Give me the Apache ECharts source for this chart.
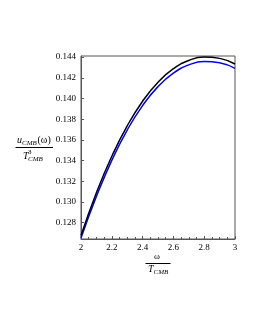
<!DOCTYPE html>
<html><head><meta charset="utf-8">
<script src="https://cdn.jsdelivr.net/npm/echarts@6/dist/echarts.min.js"></script>
<style>html,body{margin:0;padding:0;background:#fff}#c{width:255px;height:330px}</style>
</head><body><div id="c"></div>
<script>
const xValues = [2.0, 2.1, 2.2, 2.3, 2.4, 2.5, 2.6, 2.7, 2.8, 2.9, 3.0];
const blackValues = [0.12676, 0.13090, 0.13442, 0.13736, 0.13974, 0.14157, 0.14288, 0.14368, 0.14401, 0.14388, 0.14334];
const blueValues = [0.12652, 0.13053, 0.13403, 0.13696, 0.13932, 0.14115, 0.14245, 0.14325, 0.14358, 0.14345, 0.14291];
const yTicks = [0.128, 0.130, 0.132, 0.134, 0.136, 0.138, 0.140, 0.142, 0.144];

const serif = '"Liberation Serif", "DejaVu Serif", serif';
const axisColor = '#555';
const chart = echarts.init(document.getElementById('c'), null, {renderer: 'canvas'});
const txt = (x, y, s, size, italic, align) => ({
  type: 'text', x: x, y: y,
  style: {text: s, font: (italic ? 'italic ' : '') + size + 'px ' + serif, fill: '#000',
          align: align || 'left', verticalAlign: 'middle'}
});
chart.setOption({
  animation: false,
  grid: {left: 81, right: 20, top: 56, bottom: 91, show: true, borderColor: axisColor, borderWidth: 1, backgroundColor: '#fff'},
  xAxis: {
    type: 'value', min: 2, max: 3, interval: 0.2,
    axisLine: {lineStyle: {color: axisColor}},
    axisTick: {inside: true, length: 3, lineStyle: {color: axisColor}},
    minorTick: {show: true, splitNumber: 4, length: 2, lineStyle: {color: axisColor}},
    splitLine: {show: false},
    axisLabel: {color: '#000', fontFamily: serif, fontSize: 9, margin: 4}
  },
  yAxis: {
    type: 'value', min: 0.12643, max: 0.14411,
    axisLine: {lineStyle: {color: axisColor}},
    axisTick: {inside: true, length: 3, customValues: yTicks, lineStyle: {color: axisColor}},
    splitLine: {show: false},
    axisLabel: {color: '#000', fontFamily: serif, fontSize: 9, margin: 5,
      customValues: yTicks, formatter: v => v.toFixed(3)}
  },
  series: [
    {type: 'line', data: xValues.map((x, i) => [x, blackValues[i]]), smooth: true, symbol: 'none',
     lineStyle: {color: '#000', width: 1.5}, z: 3},
    {type: 'line', data: xValues.map((x, i) => [x, blueValues[i]]), smooth: true, symbol: 'none',
     lineStyle: {color: '#0000ff', width: 1.5}, z: 2}
  ],
  graphic: [
    txt(17, 140, 'u', 10, true),
    txt(22, 143, 'CMB', 7, true),
    txt(37.5, 140, '(ω)', 10, false),
    {type: 'line', shape: {x1: 15.5, y1: 147.5, x2: 53, y2: 147.5}, style: {stroke: '#000', lineWidth: 1}},
    txt(23, 156, 'T', 10, true),
    txt(28, 152, '3', 7, false),
    txt(28, 159.5, 'CMB', 7, true),
    txt(157, 257, 'ω', 9, false, 'center'),
    {type: 'line', shape: {x1: 145.5, y1: 263.5, x2: 170.5, y2: 263.5}, style: {stroke: '#000', lineWidth: 1}},
    txt(148, 269, 'T', 10, true),
    txt(153.5, 272, 'CMB', 7, true)
  ]
});
</script></body></html>
